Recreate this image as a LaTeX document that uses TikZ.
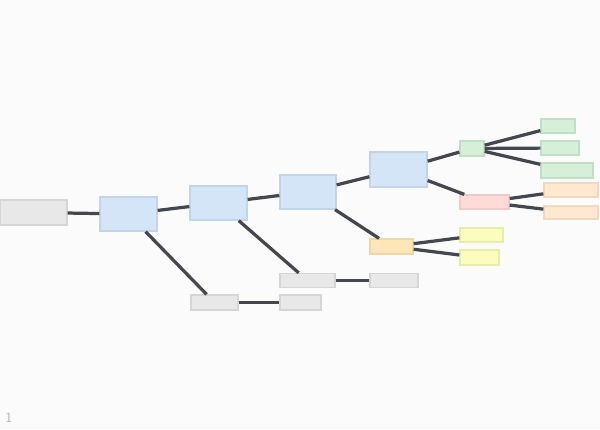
\documentclass[tikz,border=0pt]{standalone}
\usepackage{xcolor}

\definecolor{bgcol}{HTML}{FBFBFB}
\definecolor{edgecol}{HTML}{45474F}
\definecolor{grayfill}{HTML}{E8E8E8}\definecolor{grayline}{HTML}{D5D5D5}
\definecolor{bluefill}{HTML}{D4E5F8}\definecolor{blueline}{HTML}{C3D4E6}
\definecolor{greenfill}{HTML}{D5EFD8}\definecolor{greenline}{HTML}{C3DEC6}
\definecolor{redfill}{HTML}{FFDBD8}\definecolor{redline}{HTML}{F0CACA}
\definecolor{orangefill}{HTML}{FEE8CF}\definecolor{orangeline}{HTML}{F0D9C0}
\definecolor{amberfill}{HTML}{FEE6B8}\definecolor{amberline}{HTML}{EDD6A8}
\definecolor{yellowfill}{HTML}{FAFDBE}\definecolor{yellowline}{HTML}{E8EBAE}

\begin{document}
\begin{tikzpicture}[x=0.025cm,y=-0.025cm,
  box/.style={rectangle,inner sep=0pt,line width=0.9pt},
  graybox/.style={box,fill=grayfill,draw=grayline},
  bluebox/.style={box,fill=bluefill,draw=blueline},
  greenbox/.style={box,fill=greenfill,draw=greenline},
  redbox/.style={box,fill=redfill,draw=redline},
  orangebox/.style={box,fill=orangefill,draw=orangeline},
  amberbox/.style={box,fill=amberfill,draw=amberline},
  yellowbox/.style={box,fill=yellowfill,draw=yellowline},
  link/.style={draw=edgecol,line width=2.3pt}]
\fill[bgcol] (0,0) rectangle (600,429);
\useasboundingbox (0,0) rectangle (600,429);

% main chain
\node[graybox,minimum width=1.675cm,minimum height=0.625cm] (root) at (33.5,212.5) {};
\node[bluebox,minimum width=1.425cm,minimum height=0.85cm] (b1) at (128.5,214) {};
\node[bluebox,minimum width=1.425cm,minimum height=0.85cm] (b2) at (218.5,203) {};
\node[bluebox,minimum width=1.4cm,minimum height=0.85cm] (b3) at (308,192) {};
\node[bluebox,minimum width=1.425cm,minimum height=0.875cm] (b4) at (398.5,169.5) {};

% gray side branches
\node[graybox,minimum width=1.175cm,minimum height=0.375cm] (g1) at (214.5,302.5) {};
\node[graybox,minimum width=1.025cm,minimum height=0.375cm] (g2) at (300.5,302.5) {};
\node[graybox,minimum width=1.375cm,minimum height=0.35cm] (g3) at (307.5,280.5) {};
\node[graybox,minimum width=1.2cm,minimum height=0.35cm] (g4) at (394,280.5) {};

% right side
\node[greenbox,minimum width=0.6cm,minimum height=0.375cm] (hub) at (472,148.5) {};
\node[greenbox,minimum width=0.85cm,minimum height=0.35cm] (gl1) at (558,126) {};
\node[greenbox,minimum width=0.95cm,minimum height=0.35cm] (gl2) at (560,148) {};
\node[greenbox,minimum width=1.3cm,minimum height=0.375cm] (gl3) at (567,170.5) {};
\node[redbox,minimum width=1.225cm,minimum height=0.35cm] (red) at (484.5,202) {};
\node[orangebox,minimum width=1.35cm,minimum height=0.35cm] (ol1) at (571,190) {};
\node[orangebox,minimum width=1.35cm,minimum height=0.325cm] (ol2) at (571,212.5) {};
\node[amberbox,minimum width=1.075cm,minimum height=0.375cm] (amber) at (391.5,246.5) {};
\node[yellowbox,minimum width=1.075cm,minimum height=0.35cm] (yl1) at (481.5,235) {};
\node[yellowbox,minimum width=0.975cm,minimum height=0.375cm] (yl2) at (479.5,257.5) {};

% connectors
\foreach \a/\b in {root/b1,b1/b2,b2/b3,b3/b4,b1/g1,g1/g2,b2/g3,g3/g4,
  b3/amber,amber/yl1,amber/yl2,b4/hub,b4/red,hub/gl1,hub/gl2,hub/gl3,red/ol1,red/ol2}
  \draw[link] (\a) -- (\b);

\node[text=black!30,font=\sffamily] (pagenum) at (9,418) {1};
\end{tikzpicture}
\end{document}
